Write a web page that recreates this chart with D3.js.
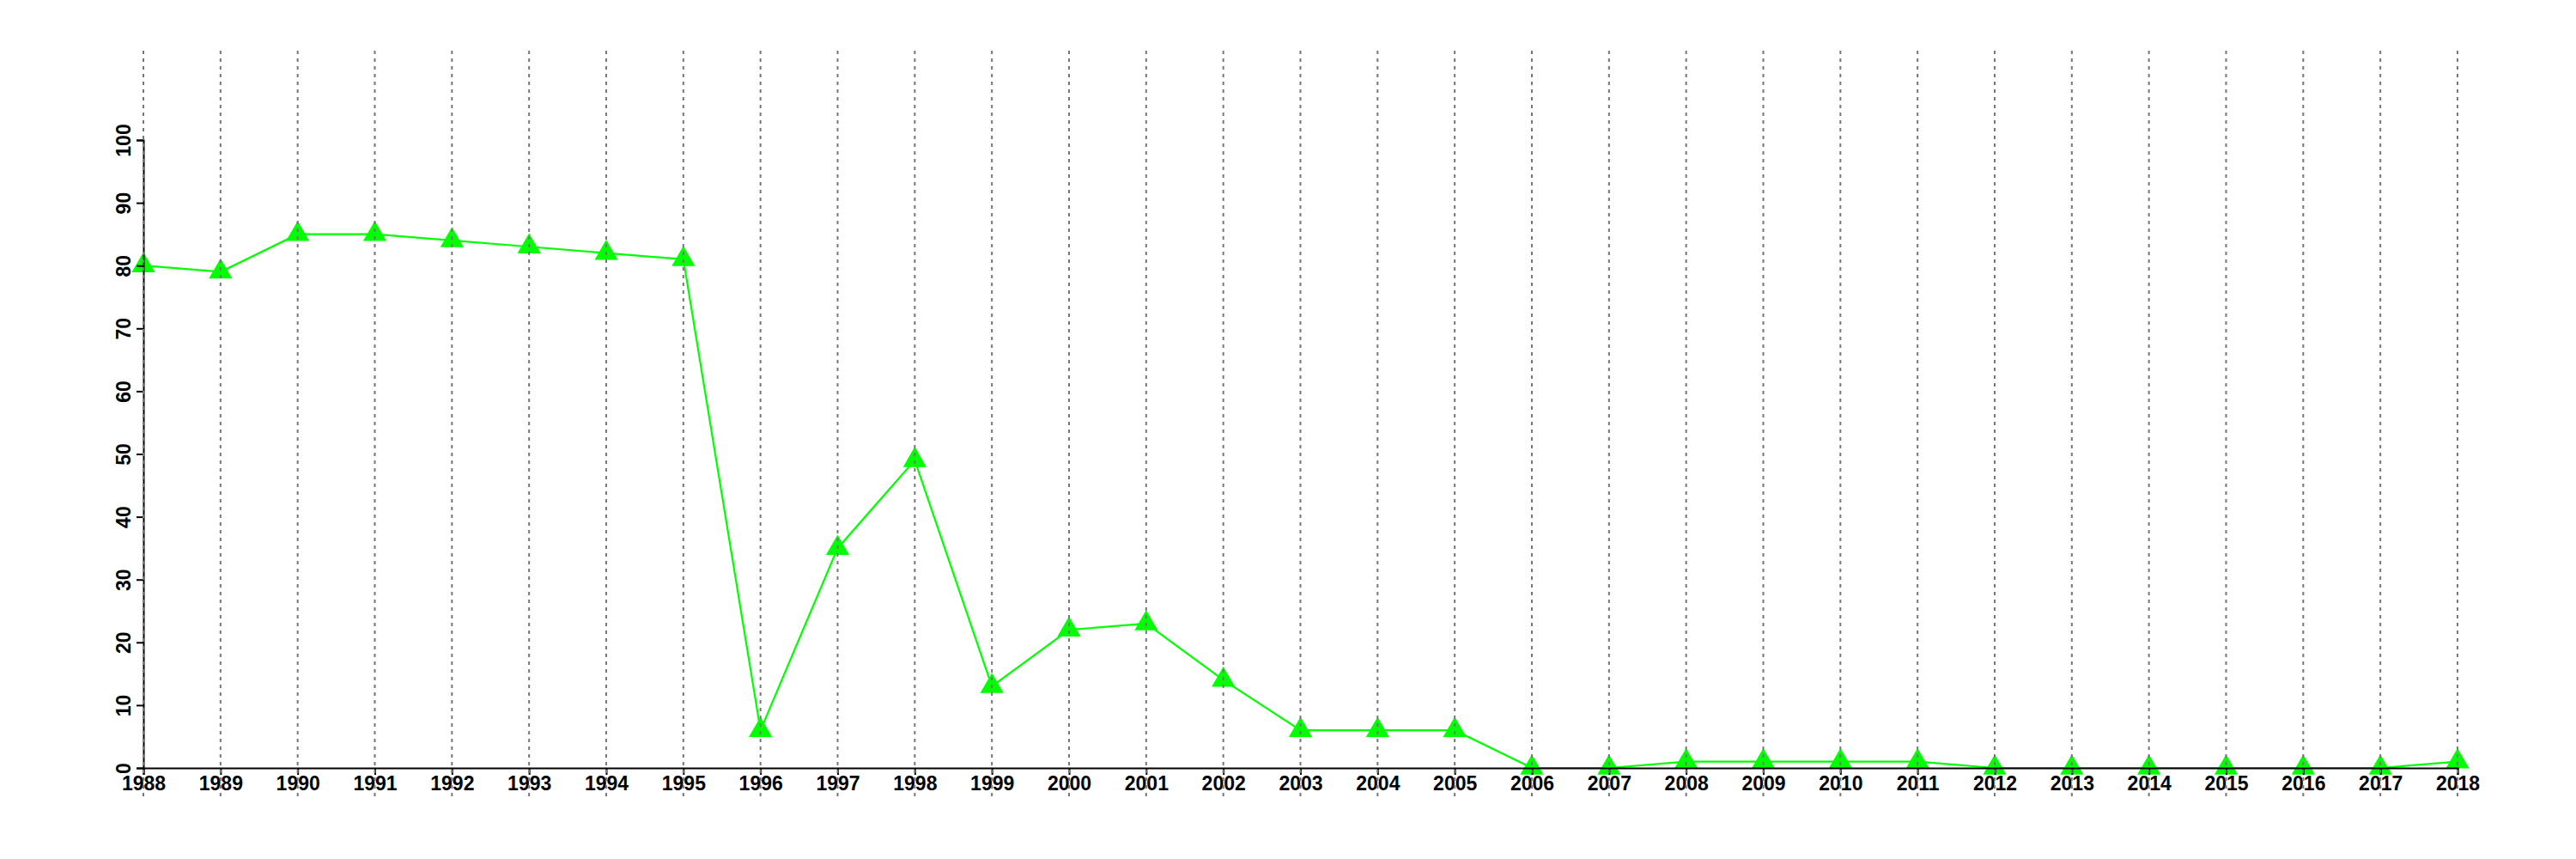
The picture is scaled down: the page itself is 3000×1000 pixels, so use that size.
<!DOCTYPE html>
<html>
<head>
<meta charset="utf-8">
<script src="https://cdn.jsdelivr.net/npm/d3@7"></script>
<style>
  html, body { margin: 0; padding: 0; background: #fff; }
  svg { display: block; }
</style>
</head>
<body>
<svg id="chart" width="3000" height="1000"></svg>
<script>
const years = [1988,1989,1990,1991,1992,1993,1994,1995,1996,1997,1998,1999,2000,2001,2002,2003,2004,2005,2006,2007,2008,2009,2010,2011,2012,2013,2014,2015,2016,2017,2018];
const values = [80,79,85,85,84,83,82,81,6,35,49,13,22,23,14,6,6,6,0,0,1,1,1,1,0,0,0,0,0,0,1];
const yTicks = [0,10,20,30,40,50,60,70,80,90,100];

const svg = d3.select("#chart");
const x = d3.scaleLinear().domain([1988, 2018]).range([167, 2862]);
const y = d3.scaleLinear().domain([0, 100]).range([894, 163]);

const font = "'Liberation Sans', Arial, Helvetica, sans-serif";

// line
svg.append("path")
  .datum(years.map((yr, i) => [yr, values[i]]))
  .attr("fill", "none")
  .attr("stroke", "#00ff00")
  .attr("stroke-width", 2.2)
  .attr("d", d3.line().x(d => x(d[0])).y(d => y(d[1])));

// markers
svg.append("g").selectAll("path")
  .data(years.map((yr, i) => [yr, values[i]]))
  .join("path")
  .attr("transform", d => `translate(${x(d[0])},${y(d[1])})`)
  .attr("d", d3.symbol().type(d3.symbolTriangle).size(320))
  .attr("fill", "#00ff00");

// x axis
const xAxis = d3.axisBottom(x).tickValues(years).tickFormat(d3.format("d")).tickSize(8).tickPadding(2);
const gx = svg.append("g").attr("transform", "translate(0,894)").call(xAxis);
gx.select(".domain").attr("stroke", "#000").attr("stroke-width", 2);
gx.selectAll(".tick line").attr("stroke", "#000").attr("stroke-width", 2);
gx.selectAll(".tick text")
  .attr("font-family", font).attr("font-weight", "bold").attr("font-size", 23)
  .attr("fill", "#000").attr("dy", "0.71em");

// y axis
const yAxis = d3.axisLeft(y).tickValues(yTicks).tickSize(8).tickPadding(0);
const gy = svg.append("g").attr("transform", "translate(167,0)").call(yAxis);
gy.select(".domain").attr("stroke", "#000").attr("stroke-width", 2);
gy.selectAll(".tick line").attr("stroke", "#000").attr("stroke-width", 2);
gy.selectAll(".tick text")
  .attr("font-family", font).attr("font-weight", "bold").attr("font-size", 23)
  .attr("fill", "#000")
  .attr("x", null).attr("dy", null)
  .attr("text-anchor", "middle")
  .attr("transform", "translate(-15,0) rotate(-90)");

// vertical dotted gridlines (drawn on top)
svg.append("g").selectAll("line")
  .data(years)
  .join("line")
  .attr("x1", d => x(d)).attr("x2", d => x(d))
  .attr("y1", 59).attr("y2", 928)
  .attr("stroke", "#777")
  .attr("stroke-width", 2)
  .attr("stroke-dasharray", "4,5");
</script>
</body>
</html>
